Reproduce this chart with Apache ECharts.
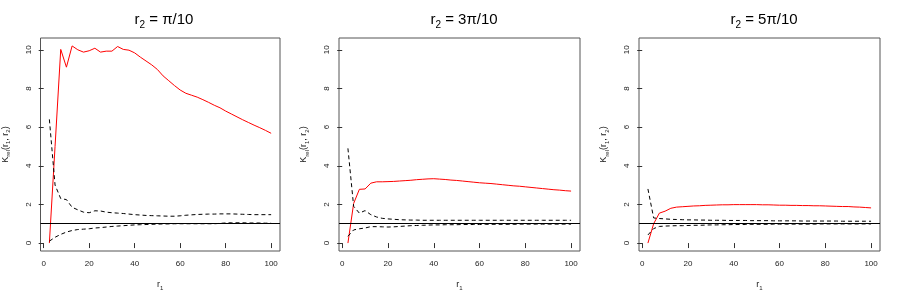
<!DOCTYPE html>
<html>
<head>
<meta charset="utf-8">
<script src="https://cdn.jsdelivr.net/npm/echarts@6/dist/echarts.min.js"></script>
<style>
  html, body { margin: 0; padding: 0; background: #fff; }
  #chart { width: 900px; height: 300px; }
</style>
</head>
<body>
<div id="chart"></div>
<script>
// r1 grid shared by the three panels
var r1 = [2.5, 5, 7.5, 10, 12.5, 15, 17.5, 20, 22.5, 25, 27.5, 30, 32.5, 35, 37.5, 40,
  42.5, 45, 47.5, 50, 52.5, 55, 57.5, 60, 62.5, 65, 67.5, 70, 72.5, 75, 77.5, 80,
  82.5, 85, 87.5, 90, 92.5, 95, 97.5, 100];

var panelTitles = ["π/10", "3π/10", "5π/10"];
var xTicks = [0, 20, 40, 60, 80, 100];
var yTicks = [0, 2, 4, 6, 8, 10];
var refLevel = 1;

// panel 1: r2 = pi/10
var kRel1 = [0, 5.0, 10.02, 9.1, 10.2, 10.0, 9.88, 9.95, 10.08, 9.88, 9.93, 9.93, 10.17, 10.02, 9.98, 9.84,
  9.62, 9.42, 9.22, 8.98, 8.65, 8.4, 8.15, 7.92, 7.75, 7.65, 7.55, 7.42, 7.28, 7.13, 7.0, 6.83,
  6.68, 6.53, 6.38, 6.24, 6.1, 5.97, 5.83, 5.68];
var upper1 = [6.4, 3.0, 2.3, 2.25, 1.85, 1.72, 1.6, 1.57, 1.67, 1.66, 1.6, 1.57, 1.55, 1.53, 1.5, 1.47,
  1.45, 1.43, 1.42, 1.41, 1.4, 1.39, 1.39, 1.41, 1.44, 1.46, 1.48, 1.49, 1.5, 1.5, 1.51, 1.51,
  1.51, 1.5, 1.49, 1.48, 1.47, 1.47, 1.47, 1.47];
var lower1 = [0.1, 0.3, 0.45, 0.57, 0.65, 0.7, 0.72, 0.74, 0.78, 0.8, 0.83, 0.86, 0.88, 0.9, 0.92, 0.94,
  0.95, 0.96, 0.97, 0.98, 0.99, 0.99, 1.0, 1.0, 1.0, 1.0, 1.0, 1.0, 1.0, 1.0, 1.02, 1.04,
  1.05, 1.05, 1.05, 1.04, 1.04, 1.04, 1.03, 1.03];

// panel 2: r2 = 3pi/10
var kRel2 = [0, 2.05, 2.78, 2.8, 3.1, 3.17, 3.17, 3.18, 3.19, 3.21, 3.23, 3.25, 3.28, 3.3, 3.32, 3.33,
  3.31, 3.29, 3.26, 3.24, 3.21, 3.18, 3.15, 3.12, 3.1, 3.08, 3.05, 3.02, 2.99, 2.96, 2.94, 2.91,
  2.88, 2.85, 2.82, 2.79, 2.76, 2.74, 2.71, 2.69];
var upper2 = [4.9, 1.9, 1.55, 1.68, 1.47, 1.35, 1.28, 1.25, 1.23, 1.21, 1.2, 1.19, 1.19, 1.18, 1.18, 1.18,
  1.18, 1.18, 1.18, 1.18, 1.18, 1.18, 1.18, 1.18, 1.18, 1.18, 1.18, 1.18, 1.18, 1.18, 1.18, 1.18,
  1.18, 1.18, 1.18, 1.18, 1.18, 1.18, 1.18, 1.18];
var lower2 = [0.35, 0.68, 0.74, 0.78, 0.85, 0.85, 0.84, 0.83, 0.84, 0.86, 0.88, 0.9, 0.91, 0.92, 0.93, 0.94,
  0.94, 0.95, 0.95, 0.95, 0.96, 0.96, 0.96, 0.96, 0.97, 0.97, 0.97, 0.97, 0.97, 0.97, 0.98, 0.98,
  0.98, 0.98, 0.98, 0.98, 0.98, 0.98, 0.98, 0.98];

// panel 3: r2 = 5pi/10
var kRel3 = [0, 1.0, 1.55, 1.65, 1.8, 1.86, 1.88, 1.9, 1.92, 1.93, 1.95, 1.96, 1.97, 1.98, 1.98, 1.99,
  1.99, 1.99, 1.99, 1.99, 1.98, 1.98, 1.97, 1.96, 1.96, 1.95, 1.95, 1.94, 1.94, 1.93, 1.93, 1.92,
  1.91, 1.9, 1.89, 1.89, 1.87, 1.86, 1.84, 1.82];
var upper3 = [2.8, 1.3, 1.27, 1.25, 1.23, 1.22, 1.21, 1.2, 1.2, 1.19, 1.19, 1.18, 1.18, 1.18, 1.17, 1.17,
  1.17, 1.17, 1.16, 1.16, 1.16, 1.16, 1.15, 1.15, 1.15, 1.15, 1.15, 1.14, 1.14, 1.14, 1.14, 1.14,
  1.14, 1.14, 1.13, 1.13, 1.13, 1.13, 1.13, 1.13];
var lower3 = [0.42, 0.75, 0.86, 0.88, 0.89, 0.9, 0.9, 0.91, 0.92, 0.92, 0.93, 0.94, 0.94, 0.95, 0.95, 0.96,
  0.96, 0.96, 0.97, 0.97, 0.97, 0.97, 0.98, 0.98, 0.98, 0.98, 0.98, 0.98, 0.98, 0.98, 0.99, 0.99,
  0.99, 0.99, 0.99, 0.99, 0.99, 0.99, 0.99, 0.99];

var panels = [
  { kRel: kRel1, upper: upper1, lower: lower1 },
  { kRel: kRel2, upper: upper2, lower: lower2 },
  { kRel: kRel3, upper: upper3, lower: lower3 }
];

function pairs(ys) {
  return ys.map(function (y, i) { return [r1[i], y]; });
}

var font = "'Liberation Sans', Arial, sans-serif";
var grids = [], xAxes = [], yAxes = [], series = [], titles = [];

panels.forEach(function (p, i) {
  var left = 39 + i * 300;
  grids.push({
    left: left, top: 38, width: 241, height: 213,
    show: true, borderColor: '#555', borderWidth: 1, backgroundColor: 'transparent'
  });
  titles.push({
    text: '{m|r}{s|2}{m| = ' + panelTitles[i] + '}',
    left: left + 120, top: 5, textAlign: 'center',
    textStyle: {
      fontWeight: 'normal',
      rich: {
        m: { fontSize: 15, fontFamily: font, fontWeight: 'normal', color: '#000', lineHeight: 20 },
        s: { fontSize: 10, fontFamily: font, fontWeight: 'normal', color: '#000', lineHeight: 20, verticalAlign: 'bottom', padding: [6, 0, 0, 0] }
      }
    }
  });
  xAxes.push({
    type: 'value', gridIndex: i, min: -1.4, max: 103.9,
    name: '{m|r}{s|1}', nameLocation: 'middle', nameGap: 28,
    nameTextStyle: {
      rich: {
        m: { fontSize: 9, fontFamily: font, color: '#222', lineHeight: 12 },
        s: { fontSize: 6, fontFamily: font, color: '#222', lineHeight: 12, verticalAlign: 'bottom', padding: [4, 0, 0, 0] }
      }
    },
    axisLine: { show: false },
    splitLine: { show: false },
    axisTick: { show: true, customValues: xTicks, length: 5, inside: false, lineStyle: { color: '#333' } },
    axisLabel: { customValues: xTicks, fontSize: 8, fontFamily: font, color: '#222', margin: 9 }
  });
  yAxes.push({
    type: 'value', gridIndex: i, min: -0.41, max: 10.61,
    name: '{m|K}{s|rel}{m|(r}{s|1}{m|, r}{s|2}{m|)}', nameLocation: 'middle', nameGap: 29,
    nameTextStyle: {
      rich: {
        m: { fontSize: 9, fontFamily: font, color: '#222', lineHeight: 12 },
        s: { fontSize: 6, fontFamily: font, color: '#222', lineHeight: 12, verticalAlign: 'bottom', padding: [4, 0, 0, 0] }
      }
    },
    axisLine: { show: false },
    splitLine: { show: false },
    axisTick: { show: true, customValues: yTicks, length: 5, inside: false, lineStyle: { color: '#333' } },
    axisLabel: { customValues: yTicks, fontSize: 8, fontFamily: font, color: '#222', rotate: 90, margin: 8 }
  });
  series.push({
    type: 'line', xAxisIndex: i, yAxisIndex: i, data: pairs(p.kRel),
    symbol: 'none', lineStyle: { color: '#ff0000', width: 1 },
    markLine: {
      silent: true, symbol: 'none', label: { show: false },
      lineStyle: { color: '#000', type: 'solid', width: 1 },
      data: [{ yAxis: refLevel }]
    }
  });
  series.push({
    type: 'line', xAxisIndex: i, yAxisIndex: i, data: pairs(p.upper),
    symbol: 'none', lineStyle: { color: '#000', width: 1, type: [4, 3] }
  });
  series.push({
    type: 'line', xAxisIndex: i, yAxisIndex: i, data: pairs(p.lower),
    symbol: 'none', lineStyle: { color: '#000', width: 1, type: [4, 3] }
  });
});

var option = {
  animation: false,
  backgroundColor: '#fff',
  title: titles,
  grid: grids,
  xAxis: xAxes,
  yAxis: yAxes,
  series: series
};

var dom = document.getElementById('chart');
var myChart = echarts.init(dom, null, { renderer: 'canvas' });
myChart.setOption(option);
</script>
</body>
</html>
